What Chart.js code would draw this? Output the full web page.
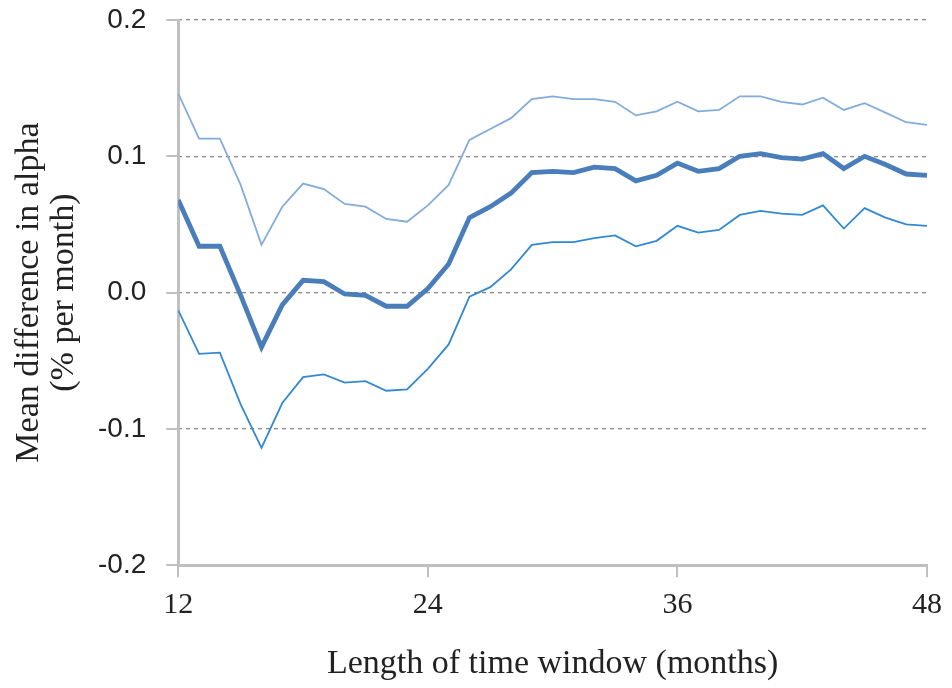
<!DOCTYPE html>
<html>
<head>
<meta charset="utf-8">
<script src="https://cdn.jsdelivr.net/npm/chart.js@4/dist/chart.umd.min.js"></script>
<style>
  html, body { margin: 0; padding: 0; background: #ffffff; }
  #wrap { width: 952px; height: 688px; position: relative; }
</style>
</head>
<body>
<div id="wrap"><canvas id="c" width="952" height="688"></canvas></div>
<script>
const months = [12,13,14,15,16,17,18,19,20,21,22,23,24,25,26,27,28,29,30,31,32,33,34,35,36,37,38,39,40,41,42,43,44,45,46,47,48];
const upperBand = [0.146,0.113,0.113,0.079,0.035,0.063,0.080,0.076,0.065,0.063,0.054,0.052,0.064,0.079,0.112,0.120,0.128,0.142,0.144,0.142,0.142,0.140,0.130,0.133,0.140,0.133,0.134,0.144,0.144,0.140,0.138,0.143,0.134,0.139,0.132,0.125,0.123];
const meanDiff = [0.068,0.034,0.034,-0.002,-0.040,-0.009,0.009,0.008,-0.001,-0.002,-0.010,-0.010,0.003,0.021,0.055,0.063,0.073,0.088,0.089,0.088,0.092,0.091,0.082,0.086,0.095,0.089,0.091,0.100,0.102,0.099,0.098,0.102,0.091,0.100,0.094,0.087,0.086];
const lowerBand = [-0.013,-0.045,-0.044,-0.082,-0.114,-0.081,-0.062,-0.060,-0.066,-0.065,-0.072,-0.071,-0.056,-0.038,-0.003,0.004,0.017,0.035,0.037,0.037,0.040,0.042,0.034,0.038,0.049,0.044,0.046,0.057,0.060,0.058,0.057,0.064,0.047,0.062,0.055,0.050,0.049];
const xTicks = [12,24,36,48];
const yTicks = [-0.2,-0.1,0.0,0.1,0.2];

const toXY = arr => months.map((m, i) => ({x: m, y: arr[i]}));
const axisGray = '#c0c0c0';
const serif = '"Liberation Serif", "Times New Roman", serif';
const sans = '"Liberation Sans", Arial, sans-serif';

new Chart(document.getElementById('c'), {
  type: 'line',
  data: {
    datasets: [
      { data: toXY(upperBand), borderColor: '#82acdc', borderWidth: 1.8, pointRadius: 0, tension: 0, fill: false },
      { data: toXY(meanDiff), borderColor: '#4a7ebb', borderWidth: 4.8, pointRadius: 0, tension: 0, fill: false },
      { data: toXY(lowerBand), borderColor: '#3189d4', borderWidth: 1.8, pointRadius: 0, tension: 0, fill: false }
    ]
  },
  options: {
    responsive: false,
    animation: false,
    devicePixelRatio: 1,
    layout: { padding: { left: 12, right: 24, top: 20, bottom: 4 } },
    plugins: { legend: { display: false }, tooltip: { enabled: false } },
    scales: {
      x: {
        type: 'linear',
        min: 12, max: 48,
        afterBuildTicks: s => { s.ticks = xTicks.map(v => ({value: v})); },
        grid: { drawOnChartArea: false, drawTicks: true, tickLength: 12, color: axisGray, lineWidth: 2 },
        border: { display: true, color: axisGray, width: 3 },
        ticks: { color: '#222', font: { family: serif, size: 30, lineHeight: 1.2 }, padding: 10, maxRotation: 0 },
        title: { display: true, text: 'Length of time window (months)', color: '#222', font: { family: serif, size: 34, lineHeight: 1.2 }, padding: { top: 10, bottom: 0 } }
      },
      y: {
        type: 'linear',
        position: 'left',
        weight: 1,
        min: -0.2, max: 0.2,
        afterBuildTicks: s => { s.ticks = yTicks.map(v => ({value: v})); },
        grid: {
          drawOnChartArea: true, drawTicks: false,
          color: ctx => (ctx.tick && Math.abs(ctx.tick.value + 0.2) < 1e-9) ? 'rgba(0,0,0,0)' : '#8a8a8a',
          lineWidth: 1.3
        },
        border: { display: false, dash: [4, 4] },
        ticks: {
          color: '#222', font: { family: sans, size: 28, lineHeight: 1.2 }, padding: 0,
          callback: v => Number(v).toFixed(1)
        },
        title: { display: true, text: ['Mean difference in alpha', '(% per month)'], color: '#222', font: { family: serif, size: 34, lineHeight: 1.03 }, padding: { top: 0, bottom: 16 } }
      },
      yTickMarks: {
        type: 'linear',
        position: 'left',
        weight: 0,
        min: -0.2, max: 0.2,
        afterBuildTicks: s => { s.ticks = yTicks.map(v => ({value: v})); },
        grid: { drawOnChartArea: false, drawTicks: true, tickLength: 12, color: axisGray, lineWidth: 2 },
        border: { display: true, color: axisGray, width: 3 },
        ticks: { display: false },
        title: { display: true, text: ' ', font: { size: 1, lineHeight: 1 }, padding: { top: 0, bottom: 19 } }
      }
    }
  }
});
</script>
</body>
</html>
